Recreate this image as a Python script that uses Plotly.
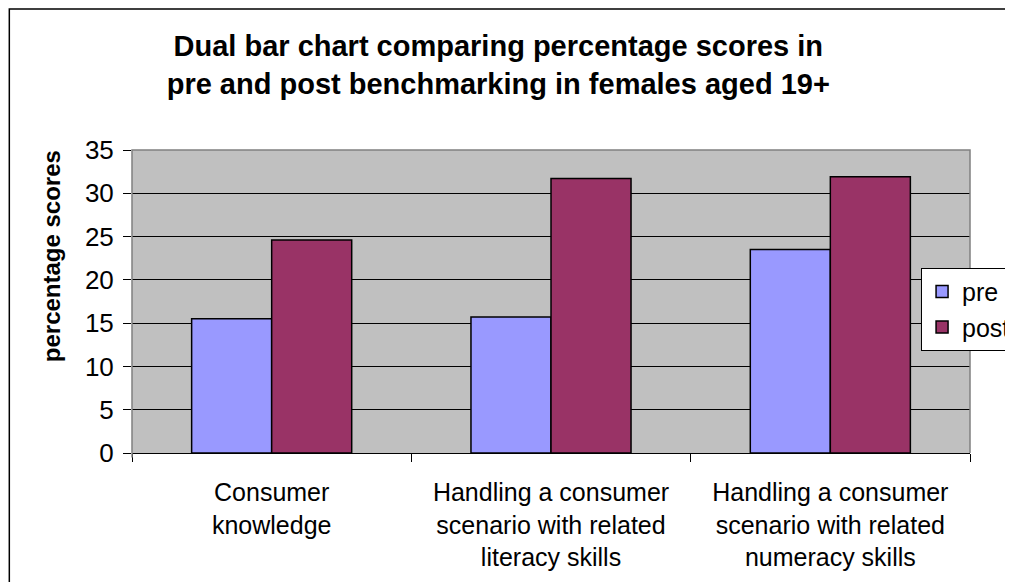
import plotly.graph_objects as go

categories = [
    "Consumer<br>knowledge",
    "Handling a consumer<br>scenario with related<br>literacy skills",
    "Handling a consumer<br>scenario with related<br>numeracy skills",
]
pre_values = [15.5, 15.7, 23.5]
post_values = [24.6, 31.7, 31.9]
y_ticks = [0, 5, 10, 15, 20, 25, 30, 35]

FONT = "Liberation Sans, Arial, sans-serif"

fig = go.Figure()
fig.add_trace(go.Bar(name="pre", x=categories, y=pre_values,
                     marker=dict(color="#9999FF", line=dict(color="black", width=1.5))))
fig.add_trace(go.Bar(name="post", x=categories, y=post_values,
                     marker=dict(color="#993366", line=dict(color="black", width=1.5))))

fig.update_layout(
    width=1013, height=582,
    margin=dict(l=124, r=51, t=142, b=137, autoexpand=False),
    paper_bgcolor="white",
    plot_bgcolor="#C0C0C0",
    barmode="group",
    bargap=0.427,
    bargroupgap=0,
    font=dict(family=FONT, size=25, color="black"),
    title=dict(
        text="<b>Dual bar chart comparing percentage scores in<br>pre and post benchmarking in females aged 19+</b>",
        font=dict(family=FONT, size=29, color="black"),
        xref="container", yref="container",
        x=0.484, y=0.917, xanchor="center", yanchor="middle",
    ),
    legend=dict(
        x=0.9416, y=0.611, xanchor="left", yanchor="top",
        bgcolor="white", bordercolor="black", borderwidth=1,
        font=dict(family=FONT, size=25, color="black"),
        tracegroupgap=4,
    ),
    showlegend=True,
)

fig.update_xaxes(
    type="category",
    showline=True, linecolor="black", linewidth=1,
    ticks="outside", tickson="boundaries", ticklen=8, tickcolor="black",
    tickfont=dict(family=FONT, size=25, color="black"),
    ticklabelstandoff=17,
    showgrid=False,
)
fig.update_yaxes(
    range=[0, 35],
    tickvals=y_ticks,
    ticks="outside", ticklen=8, tickcolor="black",
    tickfont=dict(family=FONT, size=26, color="black"),
    showgrid=True, gridcolor="black", gridwidth=1,
    zeroline=False, showline=False,
    ticklabelstandoff=4,
)

# gray plot-area border (left, top, right)
fig.add_shape(type="path", xref="paper", yref="paper",
              path="M 0,-0.015 L 0,1 L 1,1 L 1,0",
              line=dict(color="#808080", width=1.5), layer="above")

# outer chart border
fig.add_shape(type="rect", xref="paper", yref="paper",
              x0=-0.1464, x1=1.2, y0=-0.6, y1=1.465,
              line=dict(color="black", width=1.5), layer="above")

# y axis title
fig.add_annotation(text="<b>percentage scores</b>", xref="paper", yref="paper",
                   x=-0.0951, y=0.6505, textangle=-90, showarrow=False,
                   font=dict(family=FONT, size=24, color="black"),
                   xanchor="center", yanchor="middle")

fig.write_html("out.html")
